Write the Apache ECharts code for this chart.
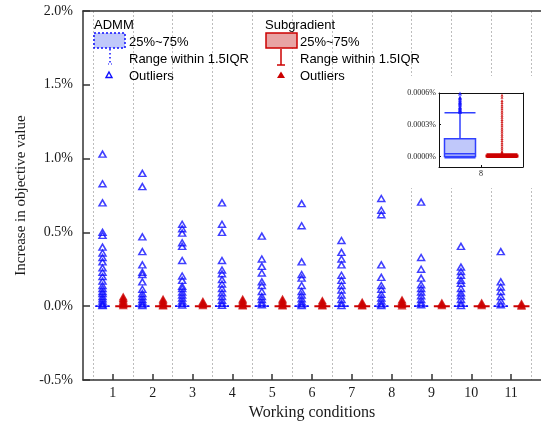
<!DOCTYPE html>
<html>
<head>
<meta charset="utf-8">
<script src="https://cdn.jsdelivr.net/npm/echarts@6/dist/echarts.min.js"></script>
<style>
  html, body { margin: 0; padding: 0; background: #fff; }
  #chart { width: 541px; height: 427px; }
</style>
</head>
<body>
<div id="chart"></div>
<script>
// Working conditions on the x axis
const conditions = [1, 2, 3, 4, 5, 6, 7, 8, 9, 10, 11];

// Box statistics per condition, in %: [min, Q1, median, Q3, max]
const admmBox = [
  [-0.00001, 0, 0.00003, 0.00016, 0.00040],
  [-0.00001, 0, 0.00003, 0.00015, 0.00038],
  [-0.00001, 0, 0.00002, 0.00014, 0.00036],
  [-0.00001, 0, 0.00003, 0.00016, 0.00040],
  [-0.00001, 0, 0.00002, 0.00013, 0.00034],
  [-0.00001, 0, 0.00003, 0.00015, 0.00038],
  [-0.00001, 0, 0.00002, 0.00014, 0.00036],
  [-0.000012, 0, 0.000025, 0.000167, 0.000413],
  [-0.00001, 0, 0.00002, 0.00013, 0.00034],
  [-0.00001, 0, 0.00003, 0.00015, 0.00038],
  [-0.00001, 0, 0.00002, 0.00012, 0.00030]
];
const subgradBox = [
  [-0.000005, 0, 0.000003, 0.000008, 0.00002],
  [-0.000005, 0, 0.000003, 0.000008, 0.00002],
  [-0.000005, 0, 0.000003, 0.000007, 0.00002],
  [-0.000005, 0, 0.000003, 0.000008, 0.00002],
  [-0.000005, 0, 0.000003, 0.000008, 0.00002],
  [-0.000005, 0, 0.000003, 0.000007, 0.00002],
  [-0.000005, 0, 0.000003, 0.000007, 0.00002],
  [-0.000005, 0, 0.000003, 0.000008, 0.00002],
  [-0.000005, 0, 0.000002, 0.000006, 0.00002],
  [-0.000005, 0, 0.000002, 0.000006, 0.00002],
  [-0.000005, 0, 0.000002, 0.000006, 0.00002]
];

// Outliers per condition, in %
const admmOutliers = [
  [1.03, 0.83, 0.70, 0.50, 0.48, 0.40, 0.36, 0.33, 0.30, 0.26, 0.23, 0.20, 0.17, 0.14, 0.12, 0.10, 0.085, 0.065, 0.05, 0.035, 0.02, 0.01, 0.004],
  [0.90, 0.81, 0.47, 0.37, 0.28, 0.23, 0.215, 0.165, 0.115, 0.085, 0.065, 0.045, 0.03, 0.015, 0.005],
  [0.555, 0.525, 0.495, 0.43, 0.405, 0.31, 0.205, 0.175, 0.135, 0.12, 0.095, 0.075, 0.055, 0.035, 0.02, 0.008],
  [0.70, 0.555, 0.50, 0.31, 0.245, 0.22, 0.18, 0.15, 0.12, 0.09, 0.065, 0.04, 0.02, 0.006],
  [0.475, 0.32, 0.27, 0.225, 0.165, 0.14, 0.10, 0.065, 0.045, 0.025, 0.01],
  [0.695, 0.545, 0.30, 0.215, 0.19, 0.14, 0.10, 0.075, 0.05, 0.03, 0.015, 0.004],
  [0.445, 0.365, 0.32, 0.28, 0.21, 0.175, 0.14, 0.11, 0.075, 0.045, 0.02, 0.005],
  [0.73, 0.65, 0.62, 0.28, 0.195, 0.14, 0.115, 0.08, 0.055, 0.035, 0.015, 0.004],
  [0.705, 0.33, 0.25, 0.19, 0.145, 0.12, 0.095, 0.07, 0.045, 0.025, 0.01],
  [0.405, 0.265, 0.235, 0.21, 0.175, 0.155, 0.12, 0.09, 0.07, 0.045, 0.02, 0.005],
  [0.37, 0.165, 0.13, 0.10, 0.065, 0.035, 0.01]
];
const subgradOutliers = [
  [0.065, 0.055, 0.045, 0.035, 0.025, 0.015, 0.006],
  [0.05, 0.04, 0.03, 0.02, 0.01, 0.004],
  [0.035, 0.025, 0.015, 0.006],
  [0.05, 0.04, 0.03, 0.02, 0.01, 0.004],
  [0.05, 0.04, 0.03, 0.02, 0.01, 0.004],
  [0.04, 0.03, 0.02, 0.01, 0.004],
  [0.03, 0.02, 0.01, 0.004],
  [0.045, 0.035, 0.025, 0.015, 0.005],
  [0.025, 0.015, 0.006],
  [0.025, 0.015, 0.006],
  [0.02, 0.01, 0.003]
];

// Zoomed view of one condition
const insetCondition = 8;
const insetAdmmOutliers = [0.000595, 0.00056, 0.00055, 0.000535, 0.00052, 0.00051, 0.0005, 0.00049, 0.00047, 0.00046, 0.00045, 0.00044, 0.00043, 0.00042];
const insetSubgradOutliers = [0.00058, 0.00056, 0.00053, 0.00051, 0.00049, 0.00047, 0.00045, 0.00043, 0.00041, 0.00039, 0.00037, 0.00035, 0.00033, 0.00031, 0.00029, 0.00027, 0.00025, 0.00023, 0.00021, 0.00019, 0.00017, 0.00015, 0.00013, 0.00011, 0.00009, 0.00007, 0.00005, 0.00004, 0.00003];
const insetTicks = [0, 0.0003, 0.0006];

// Main y ticks
const yMin = -0.5, yMax = 2.0, yStep = 0.5;

const SIDE = 0.26;      // half distance between the two methods within a condition
const INSET_SIDE = 0.25;

const BLUE = '#0f0fff';
const BLUE_FILL = '#c0c8fa';
const RED = '#cc0000';
const RED_FILL = '#e8a4a4';
const SERIF = 'Liberation Serif';
const SANS = 'Liberation Sans';

const admmIdx = conditions.indexOf(insetCondition);

const chart = echarts.init(document.getElementById('chart'), null, { renderer: 'canvas' });

const mainX = { min: 0.25, max: 11.75 };

const option = {
  animation: false,
  backgroundColor: '#fff',
  grid: [
    { left: 83, top: 11, right: -2, bottom: 47 },
    { left: 93, top: 11, width: 450, height: 369 },
    { left: 439, top: 93, width: 84, height: 74, z: 3 }
  ],
  xAxis: [
    {
      type: 'value', gridIndex: 0, min: mainX.min, max: mainX.max, position: 'bottom',
      axisLine: { onZero: false, lineStyle: { color: '#333', width: 1.5 } },
      axisTick: { inside: true, length: 6, customValues: conditions, lineStyle: { color: '#333', width: 1.5 } },
      axisLabel: { customValues: conditions, formatter: v => String(v), fontFamily: SERIF, fontSize: 14, color: '#1a1a1a', margin: 6 },
      splitLine: { show: false },
      name: 'Working conditions', nameLocation: 'middle', nameGap: 21,
      nameTextStyle: { fontFamily: SERIF, fontSize: 16, color: '#1a1a1a' }
    },
    {
      type: 'value', gridIndex: 0, min: mainX.min, max: mainX.max, position: 'top',
      axisLine: { onZero: false, lineStyle: { color: '#333', width: 1.5 } },
      axisTick: { show: false }, axisLabel: { show: false }, splitLine: { show: false }
    },
    {
      type: 'value', gridIndex: 1, min: 0, max: 11.25, interval: 1,
      axisLine: { show: false }, axisTick: { show: false }, axisLabel: { show: false },
      splitLine: { show: true, lineStyle: { color: '#bdbdbd', type: [2, 2], width: 1 } }
    },
    {
      type: 'value', gridIndex: 2, min: insetCondition - 0.5, max: insetCondition + 0.5, position: 'bottom', z: 3,
      axisLine: { onZero: false, lineStyle: { color: '#111', width: 1 } },
      axisTick: { inside: true, length: 2, customValues: [insetCondition], lineStyle: { color: '#111' } },
      axisLabel: { customValues: [insetCondition], formatter: v => String(v), fontFamily: SERIF, fontSize: 8, color: '#222', margin: 3 },
      splitLine: { show: false }
    },
    {
      type: 'value', gridIndex: 2, min: insetCondition - 0.5, max: insetCondition + 0.5, position: 'top', z: 3,
      axisLine: { onZero: false, lineStyle: { color: '#111', width: 1 } },
      axisTick: { show: false }, axisLabel: { show: false }, splitLine: { show: false }
    }
  ],
  yAxis: [
    {
      type: 'value', gridIndex: 0, min: yMin, max: yMax, interval: yStep,
      axisLine: { show: true, onZero: false, lineStyle: { color: '#333', width: 1.5 } },
      axisTick: { show: true, inside: true, length: 7, lineStyle: { color: '#333', width: 1.5 } },
      axisLabel: { formatter: v => v.toFixed(1) + '%', fontFamily: SERIF, fontSize: 14, color: '#1a1a1a', margin: 10 },
      splitLine: { show: false },
      name: 'Increase in objective value', nameLocation: 'middle', nameGap: 54, nameRotate: 90,
      nameTextStyle: { fontFamily: SERIF, fontSize: 15, color: '#1a1a1a' }
    },
    { type: 'value', gridIndex: 1, show: false, min: 0, max: 1 },
    {
      type: 'value', gridIndex: 2, min: -0.0001, max: 0.0006, position: 'left', z: 3,
      axisLine: { show: true, onZero: false, lineStyle: { color: '#111', width: 1 } },
      axisTick: { show: true, inside: true, length: 2, customValues: insetTicks, lineStyle: { color: '#111' } },
      axisLabel: { customValues: insetTicks, formatter: v => v.toFixed(4) + '%', fontFamily: SERIF, fontSize: 8, color: '#222', margin: 3 },
      splitLine: { show: false }
    },
    {
      type: 'value', gridIndex: 2, min: -0.0001, max: 0.0006, position: 'right', z: 3,
      axisLine: { show: true, onZero: false, lineStyle: { color: '#111', width: 1 } },
      axisTick: { show: false }, axisLabel: { show: false }, splitLine: { show: false }
    }
  ],
  graphic: [
    // blank backdrop behind the zoomed view
    { type: 'rect', z: 1, silent: true, shape: { x: 386, y: 76, width: 160, height: 112 }, style: { fill: '#fff' } },
    // legend: ADMM
    { type: 'text', z: 10, x: 94, y: 25, style: { text: 'ADMM', font: '13px ' + SANS, fill: '#000', verticalAlign: 'middle' } },
    { type: 'rect', z: 10, shape: { x: 94, y: 33, width: 31, height: 15 }, style: { fill: BLUE_FILL, stroke: BLUE, lineWidth: 1.5, lineDash: [2, 2] } },
    { type: 'text', z: 10, x: 129, y: 42, style: { text: '25%~75%', font: '13px ' + SANS, fill: '#000', verticalAlign: 'middle' } },
    { type: 'line', z: 10, shape: { x1: 110, y1: 49, x2: 110, y2: 64 }, style: { stroke: BLUE, lineWidth: 1.5, lineDash: [1.5, 2.5] } },
    { type: 'line', z: 10, shape: { x1: 108, y1: 64, x2: 112, y2: 64 }, style: { stroke: BLUE, lineWidth: 1, lineDash: [1, 2] } },
    { type: 'text', z: 10, x: 129, y: 59, style: { text: 'Range within 1.5IQR', font: '13px ' + SANS, fill: '#000', verticalAlign: 'middle' } },
    { type: 'polygon', z: 10, shape: { points: [[109, 72], [112, 77.5], [106, 77.5]] }, style: { fill: 'none', stroke: BLUE, lineWidth: 1.4 } },
    { type: 'text', z: 10, x: 129, y: 76, style: { text: 'Outliers', font: '13px ' + SANS, fill: '#000', verticalAlign: 'middle' } },
    // legend: Subgradient
    { type: 'text', z: 10, x: 265, y: 25, style: { text: 'Subgradient', font: '13px ' + SANS, fill: '#000', verticalAlign: 'middle' } },
    { type: 'rect', z: 10, shape: { x: 266, y: 33, width: 31, height: 15 }, style: { fill: RED_FILL, stroke: RED, lineWidth: 1.5 } },
    { type: 'text', z: 10, x: 300, y: 42, style: { text: '25%~75%', font: '13px ' + SANS, fill: '#000', verticalAlign: 'middle' } },
    { type: 'line', z: 10, shape: { x1: 281, y1: 49, x2: 281, y2: 65 }, style: { stroke: RED, lineWidth: 1.5 } },
    { type: 'line', z: 10, shape: { x1: 277, y1: 65, x2: 285, y2: 65 }, style: { stroke: RED, lineWidth: 1.5 } },
    { type: 'text', z: 10, x: 300, y: 59, style: { text: 'Range within 1.5IQR', font: '13px ' + SANS, fill: '#000', verticalAlign: 'middle' } },
    { type: 'polygon', z: 10, shape: { points: [[281, 71.5], [285, 78], [277, 78]] }, style: { fill: RED } },
    { type: 'text', z: 10, x: 300, y: 76, style: { text: 'Outliers', font: '13px ' + SANS, fill: '#000', verticalAlign: 'middle' } }
  ],
  series: [
    {
      name: 'ADMM', type: 'boxplot', xAxisIndex: 0, yAxisIndex: 0, z: 2,
      boxWidth: [14, 14],
      itemStyle: { color: BLUE_FILL, borderColor: BLUE, borderWidth: 1, borderType: [2, 2] },
      data: conditions.map((c, i) => [c - SIDE].concat(admmBox[i]))
    },
    {
      name: 'Subgradient', type: 'boxplot', xAxisIndex: 1, yAxisIndex: 0, z: 2,
      boxWidth: [14, 14],
      itemStyle: { color: RED_FILL, borderColor: RED, borderWidth: 2 },
      data: conditions.map((c, i) => [c + SIDE].concat(subgradBox[i]))
    },
    {
      name: 'ADMM outliers', type: 'scatter', xAxisIndex: 0, yAxisIndex: 0, z: 3,
      symbol: 'triangle', symbolSize: [7, 6],
      itemStyle: { color: 'rgba(0,0,0,0)', borderColor: BLUE, borderWidth: 1.5 },
      data: conditions.flatMap((c, i) => admmOutliers[i].map(v => [c - SIDE, v]))
    },
    {
      name: 'Subgradient outliers', type: 'scatter', xAxisIndex: 0, yAxisIndex: 0, z: 3,
      symbol: 'triangle', symbolSize: [9, 8],
      itemStyle: { color: RED },
      data: conditions.flatMap((c, i) => subgradOutliers[i].map(v => [c + SIDE, v]))
    },
    {
      name: 'ADMM inset', type: 'boxplot', xAxisIndex: 3, yAxisIndex: 2, z: 4,
      boxWidth: [31, 31],
      itemStyle: { color: BLUE_FILL, borderColor: '#3040ff', borderWidth: 1.5 },
      data: [[insetCondition - INSET_SIDE].concat(admmBox[admmIdx])]
    },
    {
      name: 'Subgradient inset', type: 'boxplot', xAxisIndex: 4, yAxisIndex: 2, z: 4,
      boxWidth: [31, 31],
      itemStyle: { color: RED_FILL, borderColor: RED, borderWidth: 2 },
      data: [[insetCondition + INSET_SIDE].concat(subgradBox[admmIdx])]
    },
    {
      name: 'ADMM inset outliers', type: 'scatter', xAxisIndex: 3, yAxisIndex: 2, z: 5,
      symbol: 'triangle', symbolSize: 4,
      itemStyle: { color: BLUE },
      data: insetAdmmOutliers.map(v => [insetCondition - INSET_SIDE, v])
    },
    {
      name: 'Subgradient inset outliers', type: 'scatter', xAxisIndex: 3, yAxisIndex: 2, z: 5,
      symbol: 'triangle', symbolSize: 3,
      itemStyle: { color: RED },
      data: insetSubgradOutliers.map(v => [insetCondition + INSET_SIDE, v])
    }
  ]
};

chart.setOption(option);
</script>
</body>
</html>
